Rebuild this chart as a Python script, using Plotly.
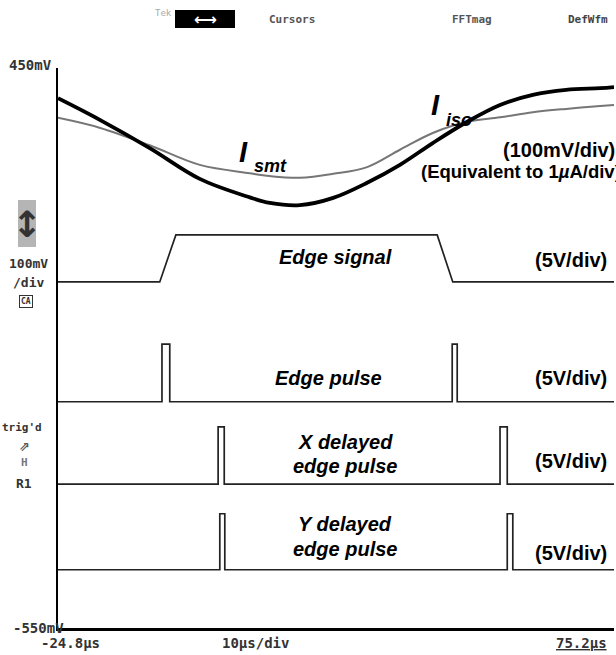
import plotly.graph_objects as go

# ---------------- data (display units: mV on screen, time in microseconds) ----------------
t_curve = [-24.8, -17.2, -8.3, 0.7, 9.7, 13.3, 18.7, 24.7, 30.8, 36.7, 42.6, 48.8, 54.7, 60.6, 66.6, 72.7, 75.2]
i_iso = [396, 357, 307, 252, 219, 209, 205, 218, 245, 277, 316, 354, 384, 402, 411, 414, 416]
i_smt = [361, 343, 312, 277, 262, 257, 254, 261, 273, 304, 334, 354, 362, 371, 377, 382, 384]

t_edge = [-24.8, -6.5, -3.6, 43.4, 46.2, 75.2]
v_edge = [68, 68, 152, 152, 68, 68]

t_epulse = [-24.8, -6.1, -6.1, -4.7, -4.7, 46.1, 46.1, 47.0, 47.0, 75.2]
v_epulse = [-146, -146, -43, -43, -146, -146, -43, -43, -146, -146]

t_xpulse = [-24.8, 4.0, 4.0, 5.1, 5.1, 54.7, 54.7, 56.0, 56.0, 75.2]
v_xpulse = [-293, -293, -191, -191, -293, -293, -191, -191, -293, -293]

t_ypulse = [-24.8, 4.3, 4.3, 5.2, 5.2, 56.0, 56.0, 57.0, 57.0, 75.2]
v_ypulse = [-446, -446, -346, -346, -446, -446, -346, -346, -446, -446]

x_range = [-24.8, 75.2]
y_range = [-550, 450]

# ---------------- layout helpers ----------------
W, H = 616, 655
ML, MR, MT, MB = 58, 2, 68, 27
PW, PH = W - ML - MR, H - MT - MB


def px(x):
    return (x - ML) / PW


def py(y):
    return (H - MB - y) / PH


fig = go.Figure()

fig.add_trace(go.Scatter(x=t_curve, y=i_smt, mode="lines", line=dict(color="#767676", width=2, shape="spline"),
                         name="I_smt", hoverinfo="skip"))
fig.add_trace(go.Scatter(x=t_curve, y=i_iso, mode="lines", line=dict(color="black", width=3.8, shape="spline"),
                         name="I_iso", hoverinfo="skip"))
fig.add_trace(go.Scatter(x=t_edge, y=v_edge, mode="lines", line=dict(color="#222", width=1.7),
                         name="Edge signal", hoverinfo="skip"))
for tt, vv, nm in [(t_epulse, v_epulse, "Edge pulse"), (t_xpulse, v_xpulse, "X delayed edge pulse"),
                   (t_ypulse, v_ypulse, "Y delayed edge pulse")]:
    fig.add_trace(go.Scatter(x=tt, y=vv, mode="lines", line=dict(color="#222", width=1.7),
                             name=nm, hoverinfo="skip"))

BI = "Liberation Sans, Arial, sans-serif"
MONO = "DejaVu Sans Mono, monospace"
ann = []


def A(x, y, text, size, xanchor="center", color="black", family=BI, **kw):
    ann.append(dict(x=px(x), y=py(y), xref="paper", yref="paper", text=text, showarrow=False,
                    xanchor=xanchor, yanchor="middle",
                    font=dict(family=family, size=size, color=color), **kw))


# curve labels
A(250, 152, "<b><i>I</i></b>", 29, xanchor="right")
A(252, 166, "<b><i>smt</i></b>", 18, xanchor="left")
A(442, 105, "<b><i>I</i></b>", 29, xanchor="right")
A(444, 120, "<b><i>iso</i></b>", 18, xanchor="left")
A(617, 150, "<b>(100mV/div)</b>", 20, xanchor="right")
A(419, 171, "<b>(Equivalent to 1<i>µ</i>A/div)</b>", 18.5, xanchor="left")

A(335, 257, "<b><i>Edge signal</i></b>", 20)
A(571, 260, "<b>(5V/div)</b>", 20)
A(328, 378, "<b><i>Edge pulse</i></b>", 20)
A(571, 378, "<b>(5V/div)</b>", 20)
A(345, 442, "<b><i>X delayed</i></b>", 20)
A(345, 466, "<b><i>edge pulse</i></b>", 20)
A(571, 461, "<b>(5V/div)</b>", 20)
A(345, 524, "<b><i>Y delayed</i></b>", 20)
A(345, 549, "<b><i>edge pulse</i></b>", 20)
A(571, 553, "<b>(5V/div)</b>", 20)

# scope readouts
A(31, 65, "<b>450mV</b>", 14, family=MONO, color="#333")
A(38, 628, "<b>-550mV</b>", 14, family=MONO, color="#333")
A(70, 643, "<b>-24.8µs</b>", 14, family=MONO, color="#333")
A(255, 643, "<b>10µs/div</b>", 14, family=MONO, color="#333")
A(581, 643, "<b><u>75.2µs</u></b>", 14, family=MONO, color="#333")
A(28, 263, "<b>100mV</b>", 13, family=MONO, color="#333")
A(28, 282, "<b>/div</b>", 13, family=MONO, color="#333")
A(26, 301, "<b>CA</b>", 8, family=MONO, color="#333", bordercolor="#333", borderwidth=1, borderpad=1)
A(27, 224, "<b>↕</b>", 36, family="DejaVu Sans", color="#333")
A(22, 428, "<b>trig'd</b>", 11, family=MONO, color="#333")
A(24, 446, "<b>⇗</b>", 13, family="DejaVu Sans", color="#555")
A(24, 463, "<b>H</b>", 11, family=MONO, color="#777")
A(24, 483, "<b>R1</b>", 13, family=MONO, color="#333")

# top menu bar
A(163, 13, "Tek", 9, family=MONO, color="#aaa")
A(205, 19, "<b>⟷</b>", 16, family="DejaVu Sans", color="white")
A(292, 19, "<b>Cursors</b>", 11, family=MONO, color="#555")
A(472, 19, "<b>FFTmag</b>", 11, family=MONO, color="#555")
A(588, 19, "<b>DefWfm</b>", 11, family=MONO, color="#444")

shapes = [
    dict(type="rect", xref="paper", yref="paper", x0=px(175), x1=px(235), y0=py(28), y1=py(10),
         fillcolor="black", line=dict(width=0), layer="below"),
    dict(type="rect", xref="paper", yref="paper", x0=px(18), x1=px(36), y0=py(247), y1=py(200),
         fillcolor="#b5b5b5", line=dict(width=0), layer="below"),
]

fig.update_layout(
    width=W, height=H, margin=dict(l=ML, r=MR, t=MT, b=MB),
    paper_bgcolor="white", plot_bgcolor="white", showlegend=False,
    annotations=ann, shapes=shapes,
    xaxis=dict(range=x_range, showgrid=False, zeroline=False, showticklabels=False, ticks="",
               showline=True, linecolor="black", linewidth=3),
    yaxis=dict(range=y_range, showgrid=False, zeroline=False, showticklabels=False, ticks="",
               showline=True, linecolor="black", linewidth=2),
)

fig.write_html("out.html", config={"displayModeBar": False},
               post_script="document.body.style.margin='0';document.body.style.padding='0';"
                           "document.body.style.overflow='hidden';")
